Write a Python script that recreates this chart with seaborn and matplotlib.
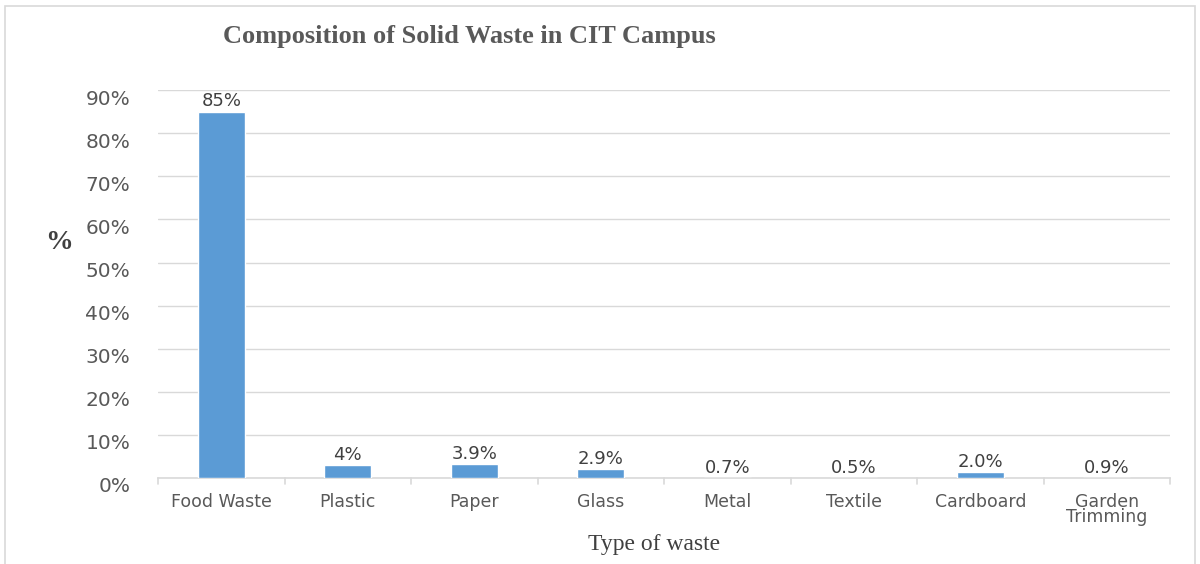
import matplotlib
matplotlib.use("Agg")
import matplotlib.pyplot as plt
import matplotlib.transforms as mtransforms
import seaborn as sns
import pandas as pd
from matplotlib.ticker import FuncFormatter
from matplotlib.patches import Rectangle

categories = ["Food Waste", "Plastic", "Paper", "Glass", "Metal", "Textile", "Cardboard", "Garden\nTrimming"]
bar_values = [85.0, 3.0, 3.2, 2.1, 0.0, 0.0, 1.4, 0.0]
value_labels = ["85%", "4%", "3.9%", "2.9%", "0.7%", "0.5%", "2.0%", "0.9%"]
yticks = [0, 10, 20, 30, 40, 50, 60, 70, 80, 90]

df = pd.DataFrame({"category": categories, "value": bar_values})

sns.set_theme(style="white")
fig = plt.figure(figsize=(12, 5.64), dpi=100)
ax = fig.add_axes([0.1317, 0.1525, 0.8433, 0.6875])

sns.barplot(data=df, x="category", y="value", color="#5B9BD5", width=0.37,
            saturation=1, ax=ax, zorder=3)

ax.set_ylim(0, 90)
ax.set_xlim(-0.5, len(categories) - 0.5)
ax.set_yticks(yticks)
ax.yaxis.set_major_formatter(FuncFormatter(lambda v, p: f"{int(v)}%"))
ax.grid(axis="y", color="#D9D9D9", linewidth=1, zorder=0)
ax.grid(axis="x", visible=False)
for s in ["top", "right", "left"]:
    ax.spines[s].set_visible(False)
ax.spines["bottom"].set_color("#D9D9D9")
ax.spines["bottom"].set_linewidth(1.2)

ax.tick_params(axis="y", labelsize=14.5, labelcolor="#595959", length=0, pad=20)
ax.tick_params(axis="x", labelsize=12.5, labelcolor="#595959", length=0, pad=11)
ax.set_xticks(range(len(categories)))
ax.set_xticklabels(categories, linespacing=0.75, va="top")
# shift y tick labels slightly down as in the reference
offset = mtransforms.ScaledTranslation(0, -5 / 72, fig.dpi_scale_trans)
for lbl in ax.get_yticklabels():
    lbl.set_transform(lbl.get_transform() + offset)
# category boundary tick marks
for i in range(len(categories) + 1):
    ax.plot([i - 0.5, i - 0.5], [0, -1.5], color="#D9D9D9", lw=1.2, clip_on=False)

for i, (v, lab) in enumerate(zip(bar_values, value_labels)):
    ax.annotate(lab, (i, v), xytext=(0, 1), textcoords="offset points",
                ha="center", va="bottom", fontsize=13, color="#404040")

ax.set_xlabel("Type of waste", fontfamily="Liberation Serif", fontsize=17,
              color="#404040")
ax.set_ylabel("%", fontfamily="Liberation Serif", fontsize=20, fontweight="bold",
              color="#404040", rotation=0)
ax.yaxis.set_label_coords(-0.098, 0.575)
ax.xaxis.set_label_coords(0.49, -0.145)

fig.text(0.391, 0.935, "Composition of Solid Waste in CIT Campus", ha="center", va="center",
         fontfamily="Liberation Serif", fontsize=19, fontweight="bold", color="#595959")

fig.patches.append(Rectangle((0.004, -0.01), 0.992, 1.0, transform=fig.transFigure,
                             fill=False, edgecolor="#D9D9D9", lw=1.2))

fig.savefig("out.png", dpi=100)
